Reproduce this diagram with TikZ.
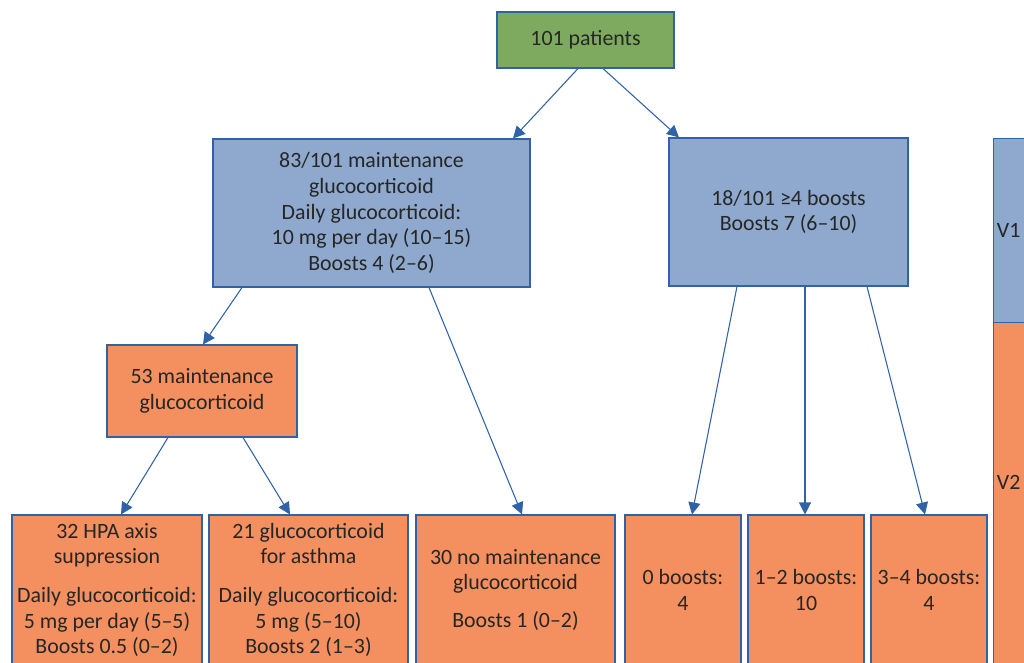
\documentclass[tikz,border=0pt]{standalone}
\usepackage{fontspec}
\setmainfont{Carlito}
\usetikzlibrary{calc,arrows.meta}
\definecolor{boxgreen}{HTML}{7EAA5F}
\definecolor{boxblue}{HTML}{8EA9CD}
\definecolor{boxorange}{HTML}{F4905F}
\definecolor{edgeblue}{HTML}{2F62A6}
\definecolor{textgray}{HTML}{262626}
\begin{document}
\begin{tikzpicture}[x=0.75pt, y=-0.75pt,
    box/.style={draw=edgeblue, line width=0.8pt, align=center, inner sep=0pt, text=textgray,
        font=\fontsize{16.4}{19.2}\selectfont},
    greenbox/.style={box, fill=boxgreen},
    bluebox/.style={box, fill=boxblue},
    orangebox/.style={box, fill=boxorange},
    lowbox/.style={orangebox, minimum height=112.5pt},
    arr/.style={draw=edgeblue, line width=0.8pt, -{Triangle[length=9pt, width=9pt]}}]
    \useasboundingbox (0,0) rectangle (1024,663);
    \clip (0,0) rectangle (1024,663);

    % top and second row
    \node[greenbox, minimum width=132.75pt, minimum height=42pt] (all) at (585.5,40) {101 patients};
    \node[bluebox, minimum width=237.75pt, minimum height=111pt] (maint) at (371.5,213)
        {83/101 maintenance\\glucocorticoid\\Daily glucocorticoid:\\10 mg per day (10–15)\\Boosts 4 (2–6)};
    \node[bluebox, minimum width=179.25pt, minimum height=111pt] (boosts) at (788.5,212)
        {18/101 ≥4 boosts\\Boosts 7 (6–10)};
    \node[bluebox, anchor=north west, minimum height=138pt,
        text width=95pt, align=left, inner xsep=2.5pt] (vone) at (993,138) {V1};
    \node[orangebox, anchor=north west, minimum height=283.5pt,
        text width=95pt, align=left, inner xsep=2.5pt, text depth=43.5pt] (vtwo) at (993,322) {V2};

    % third row
    \node[orangebox, minimum width=142.5pt, minimum height=69pt] (fiftythree) at (202,391)
        {53 maintenance\\glucocorticoid};

    % bottom row
    \node[lowbox, minimum width=142.5pt] (hpa) at (107,590)
        {32 HPA axis\\suppression\\[10pt]Daily glucocorticoid:\\5 mg per day (5–5)\\Boosts 0.5 (0–2)};
    \node[lowbox, minimum width=149.25pt] (asthma) at (308.5,590)
        {21 glucocorticoid\\for asthma\\[10pt]Daily glucocorticoid:\\5 mg (5–10)\\Boosts 2 (1–3)};
    \node[lowbox, minimum width=149.25pt] (nomaint) at (515.5,590)
        {30 no maintenance\\glucocorticoid\\[9.5pt]Boosts 1 (0–2)};
    \node[lowbox, minimum width=87pt] (bzero) at (683,590) {0 boosts:\\4};
    \node[lowbox, minimum width=87pt] (bonetwo) at (806,590) {1–2 boosts:\\10};
    \node[lowbox, minimum width=87pt] (bthreefour) at (929,590) {3–4 boosts:\\4};

    % arrows
    \draw[arr] ($(all.south)+(-7.5,0)$) -- ($(maint.north)+(141.5,0)$);
    \draw[arr] ($(all.south)+(17.5,0)$) -- ($(boosts.north)+(-109.5,0)$);
    \draw[arr] ($(maint.south)+(-129.5,0)$) -- ($(fiftythree.north)+(1,0)$);
    \draw[arr] ($(maint.south)+(57.5,0)$) -- ($(nomaint.north)+(6.5,0)$);
    \draw[arr] ($(fiftythree.south)+(-34,0)$) -- ($(hpa.north)+(14,0)$);
    \draw[arr] ($(fiftythree.south)+(41,0)$) -- ($(asthma.north)+(-18.5,0)$);
    \draw[arr] ($(boosts.south)+(-51.5,0)$) -- ($(bzero.north)+(9,0)$);
    \draw[arr] ($(boosts.south)+(16.5,0)$) -- ($(bonetwo.north)+(-1,0)$);
    \draw[arr] ($(boosts.south)+(78.5,0)$) -- ($(bthreefour.north)+(-4,0)$);
\end{tikzpicture}
\end{document}
